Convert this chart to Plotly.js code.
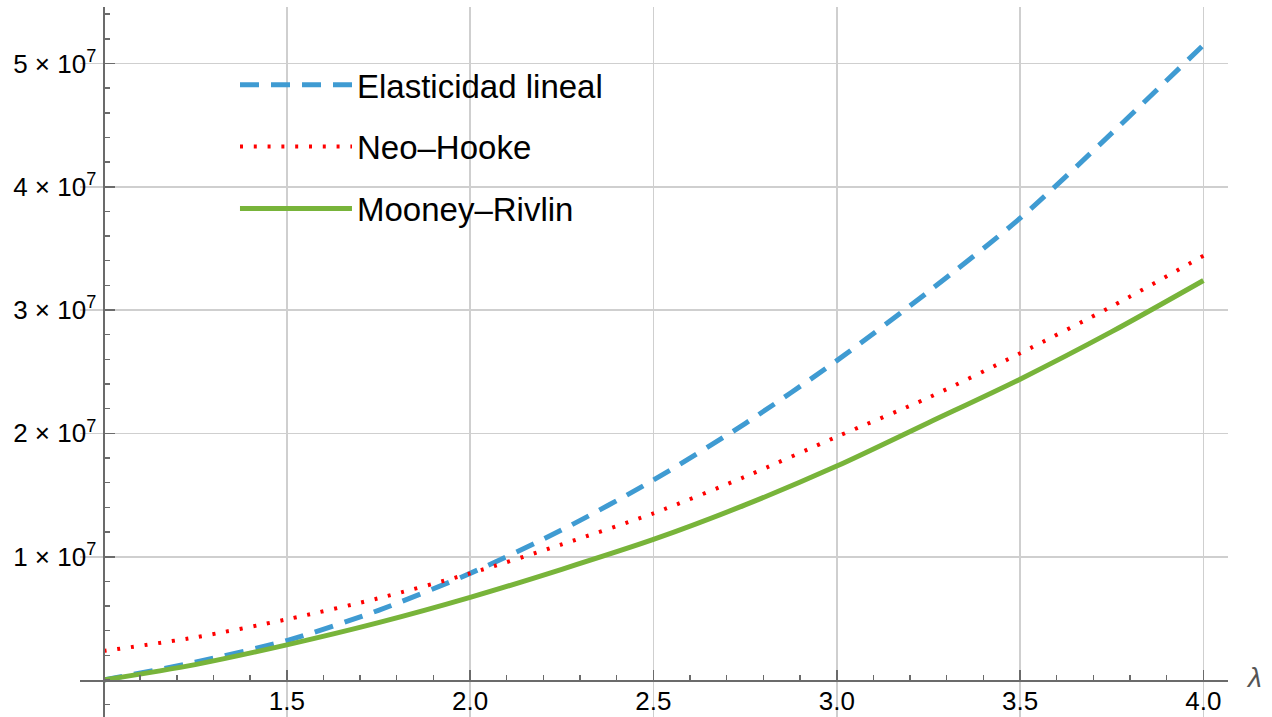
<!DOCTYPE html>
<html>
<head>
<meta charset="utf-8">
<script src="https://cdn.plot.ly/plotly-3.0.1.min.js"></script>
<style>html,body{margin:0;padding:0;background:#fff;}#chart{width:1272px;height:717px;}</style>
</head>
<body>
<div id="chart"></div>
<script>
// λ values
const lambda = [1.0, 1.25, 1.5, 1.75, 2.0, 2.25, 2.5, 2.75, 3.0, 3.25, 3.5, 3.75, 4.0];
// stress values
const elasticidadLineal = [0, 1.45e6, 3.2e6, 5.65e6, 8.65e6, 1.217e7, 1.622e7, 2.08e7, 2.59e7, 3.15e7, 3.745e7, 4.435e7, 5.15e7];
const neoHooke = [2.35e6, 3.46e6, 4.92e6, 6.63e6, 8.65e6, 1.10e7, 1.352e7, 1.649e7, 1.973e7, 2.29e7, 2.65e7, 3.03e7, 3.44e7];
const mooneyRivlin = [0, 1.25e6, 2.85e6, 4.65e6, 6.7e6, 8.98e6, 1.14e7, 1.42e7, 1.735e7, 2.087e7, 2.44e7, 2.825e7, 3.24e7];

const seriesNames = ["Elasticidad lineal", "Neo\u2013Hooke", "Mooney\u2013Rivlin"];
const xTickVals = [1.5, 2.0, 2.5, 3.0, 3.5, 4.0];
const xTickText = ["1.5", "2.0", "2.5", "3.0", "3.5", "4.0"];
const yTickVals = [1e7, 2e7, 3e7, 4e7, 5e7];
const yTickText = yTickVals.map(v => (v / 1e7) + " \u00d7 10<sup>7</sup>");

const xRange = [0.936, 4.067];
const yRange = [-3.0e6, 5.458e7];
const font = "Liberation Sans, Arial, Helvetica, sans-serif";
const axisCol = "#6b6b6b";
const gridCol = "#cfcfcf";

const traces = [
  {x: lambda, y: elasticidadLineal, name: seriesNames[0], legendgroup: "a", mode: "lines",
   line: {color: "#3f9bd2", width: 5, dash: "19px,12px", shape: "spline", smoothing: 0.8}},
  {x: lambda, y: neoHooke, name: seriesNames[1], legendgroup: "b", mode: "lines",
   line: {color: "#ff0000", width: 4, dash: "3px,10.8px", shape: "spline", smoothing: 0.8}},
  {x: lambda, y: mooneyRivlin, name: seriesNames[2], legendgroup: "c", mode: "lines",
   line: {color: "#78b43a", width: 5, shape: "spline", smoothing: 0.8}}
];

const xPos = (0 - yRange[0]) / (yRange[1] - yRange[0]);
const yPos = (1 - xRange[0]) / (xRange[1] - xRange[0]);

const layout = {
  width: 1272, height: 717,
  margin: {l: 80, r: 44, t: 7, b: 0, pad: 0},
  paper_bgcolor: "#fff", plot_bgcolor: "#fff",
  showlegend: true,
  legend: {x: 0.135, y: 0.93, xanchor: "left", yanchor: "top", bgcolor: "rgba(0,0,0,0)",
    borderwidth: 0, font: {family: font, size: 33, color: "#000"}, itemwidth: 112,
    tracegroupgap: 16, traceorder: "grouped"},
  xaxis: {range: xRange, anchor: "free", position: xPos, showline: true, linecolor: axisCol, linewidth: 1.6,
    zeroline: false, showgrid: true, gridcolor: gridCol, gridwidth: 1.6,
    tickmode: "array", tickvals: xTickVals, ticktext: xTickText, ticks: "inside", ticklen: 10, tickwidth: 1.6, tickcolor: axisCol,
    tickfont: {family: font, size: 26, color: "#000"}, ticklabelstandoff: -3,
    minor: {tickmode: "linear", tick0: 1, dtick: 0.1, ticks: "inside", ticklen: 5, tickwidth: 1.4, tickcolor: axisCol, showgrid: false}},
  yaxis: {range: yRange, anchor: "free", position: yPos, showline: true, linecolor: axisCol, linewidth: 1.6,
    zeroline: false, showgrid: true, gridcolor: gridCol, gridwidth: 1.6,
    tickmode: "array", tickvals: yTickVals, ticktext: yTickText, ticks: "inside", ticklen: 10, tickwidth: 1.6, tickcolor: axisCol,
    tickfont: {family: font, size: 26, color: "#000"}, ticklabelstandoff: 2,
    minor: {tickmode: "linear", tick0: 0, dtick: 2e6, ticks: "inside", ticklen: 5, tickwidth: 1.4, tickcolor: axisCol, showgrid: false}},
  annotations: [{text: "<i>\u03bb</i>", xref: "paper", x: 1, xanchor: "left", xshift: 16, yref: "y", y: 0, yanchor: "middle",
    yshift: 3, showarrow: false, font: {family: font, size: 28, color: "#555"}}]
};

Plotly.newPlot("chart", traces, layout, {staticPlot: true});
</script>
</body>
</html>
